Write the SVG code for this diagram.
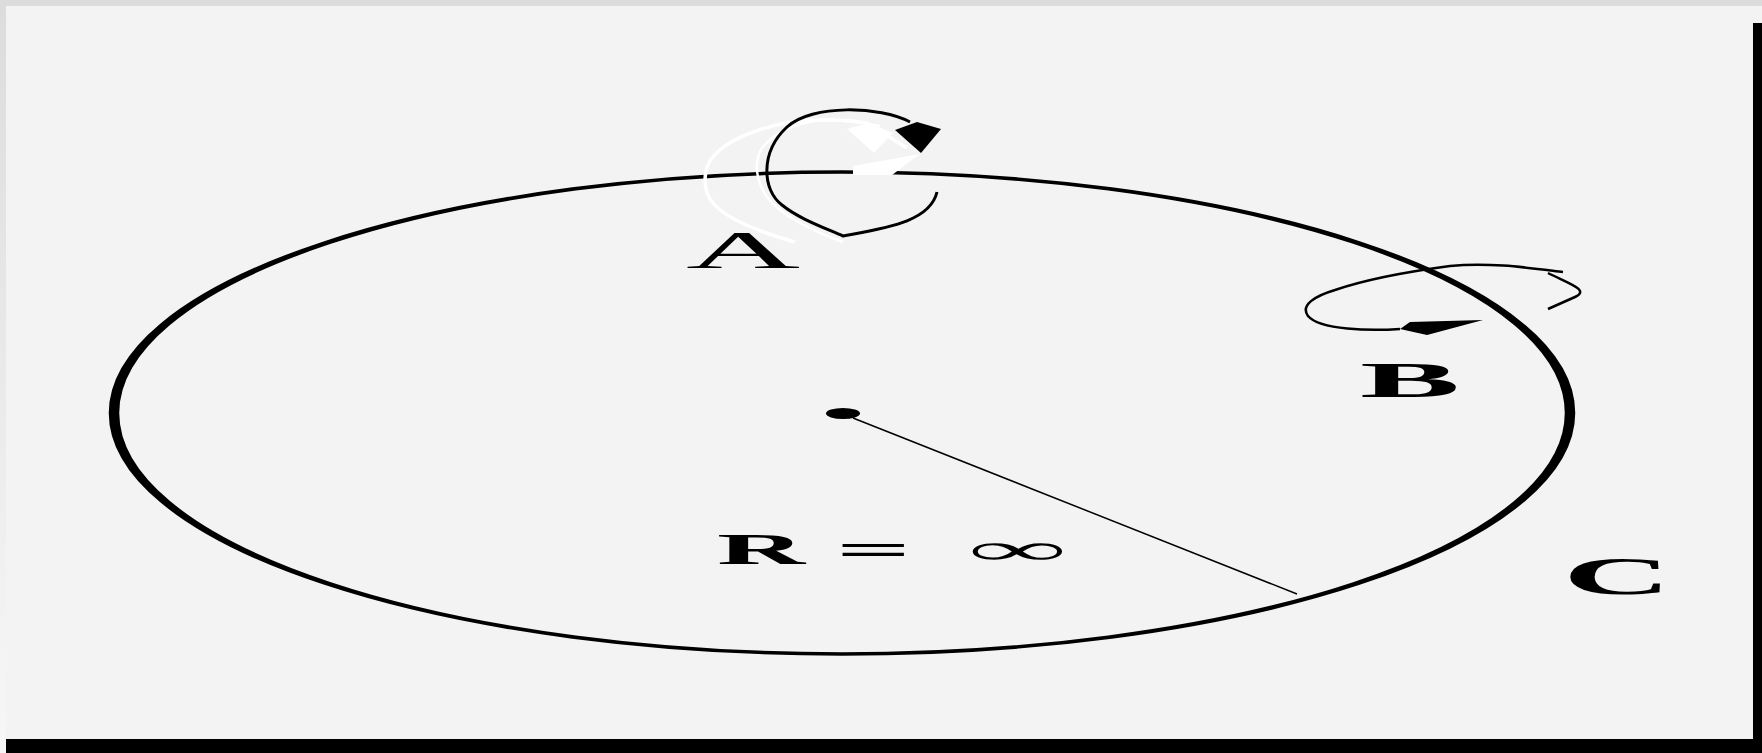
<svg xmlns="http://www.w3.org/2000/svg" width="1762" height="753" viewBox="0 0 1762 753">
<defs>
<linearGradient id="lg" x1="0" y1="0" x2="0" y2="1">
<stop offset="0" stop-color="#dcdcdc"/>
<stop offset="1" stop-color="#f7f7f7"/>
</linearGradient>
<style>
.lbl{font-family:"Liberation Serif","Times New Roman",serif;font-weight:bold;fill:#000}
.reg{font-weight:normal}
.blk{fill:none;stroke:#000;stroke-linecap:butt;stroke-linejoin:miter}
.wht{fill:none;stroke:#fff}
</style>
</defs>
<rect x="0" y="0" width="1762" height="753" fill="#f3f3f3"/>
<rect x="0" y="0" width="6" height="753" fill="url(#lg)"/>
<rect x="0" y="0" width="1762" height="6" fill="#dcdcdc"/>
<rect x="1753" y="23" width="9" height="730" fill="#000"/>
<rect x="6" y="739" width="1756" height="14" fill="#000"/>

<g id="disc">
<circle cx="0" cy="0" r="728" transform="translate(842,413) scale(1,0.331)" fill="none" stroke="#000" stroke-width="10.5"/>
</g>

<g id="connectors">
<line x1="853" y1="418" x2="1297" y2="594" stroke="#000" stroke-width="1.5"/>
</g>

<g id="center">
<ellipse cx="843" cy="413.5" rx="17" ry="5.5" fill="#000"/>
</g>

<g id="rotA">
<path class="wht" stroke-width="3.5" d="M795 242 C760 232 725 218 713 203 C702 190 703 170 712 158 C725 142 750 130 790 122 C820 118 850 120 867 123 L907 148"/>
<path class="wht" stroke-width="2.5" d="M843 242 C815 232 780 215 767 197 C755 180 754 160 762 148 C775 132 795 124 815 121 C840 119 860 122 880 126"/>
<polygon points="847,129 868,123 893,133 874,153" fill="#fff"/>
<polygon points="853,166 920,154 892,175 853,175" fill="#fff"/>
<path class="blk" stroke-width="3" d="M910 122 C880 106 812 104 787 127 C760 152 762 190 782 205 C798 218 820 226 843 236 C885 228 930 222 937 192"/>
<polygon points="895,130 917,122 941,129 921,153" fill="#000"/>
</g>

<g id="rotB">
<path class="blk" stroke-width="2.5" d="M1400 329 C1370 331 1320 330 1308 316 C1300 305 1315 296 1335 290 C1370 278 1420 270 1450 266 C1490 262 1530 268 1563 272"/>
<path class="blk" stroke-width="2.5" d="M1548 273 C1570 284 1590 290 1575 297 L1548 309"/>
<polygon points="1400,329 1410,322 1483,320 1427,335" fill="#000"/>
</g>

<g id="labelA">
<text class="lbl reg" font-size="158" transform="translate(686,268) scale(1,0.335)">A</text>
</g>
<g id="labelB">
<text class="lbl" font-size="150" transform="translate(1360,397) scale(1,0.342)">B</text>
</g>
<g id="labelC">
<text class="lbl" font-size="150" transform="translate(1563,594) scale(1,0.357)">C</text>
</g>
<g id="labelR">
<text class="lbl" font-size="122" transform="translate(0,564) scale(1,0.36)"><tspan x="717">R</tspan></text>
<text class="lbl" font-size="132" transform="translate(0,564) scale(1,0.33)"><tspan x="836">=</tspan></text>
<text class="lbl" font-size="136" transform="translate(0,564) scale(1,0.32)"><tspan x="969">∞</tspan></text>
</g>
</svg>
